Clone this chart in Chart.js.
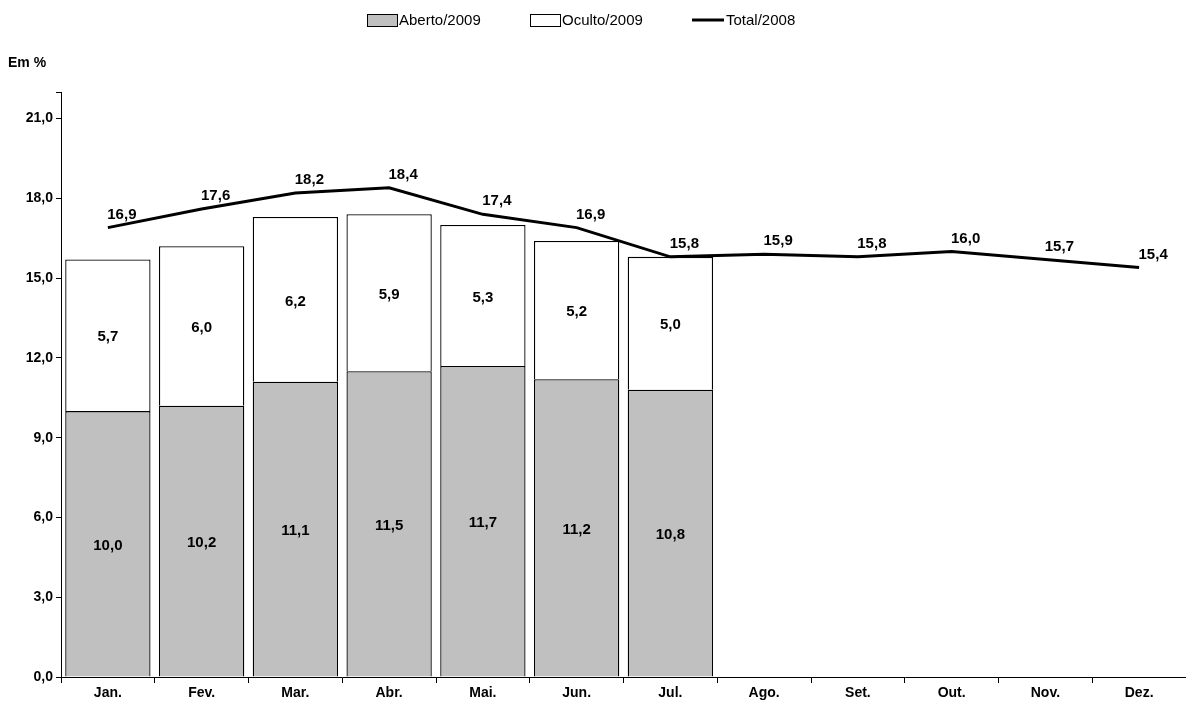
<!DOCTYPE html>
<html><head><meta charset="utf-8">
<script src="https://cdn.jsdelivr.net/npm/chart.js@4/dist/chart.umd.min.js"></script>
<style>html,body{margin:0;background:#fff}#wrap{width:1186px;height:713px}</style>
</head><body><div id="wrap"><canvas id="c"></canvas></div>
<script>
const months = ['Jan.','Fev.','Mar.','Abr.','Mai.','Jun.','Jul.','Ago.','Set.','Out.','Nov.','Dez.'];
const aberto2009 = [10.0,10.2,11.1,11.5,11.7,11.2,10.8];
const oculto2009 = [5.7,6.0,6.2,5.9,5.3,5.2,5.0];
const total2008 = [16.9,17.6,18.2,18.4,17.4,16.9,15.8,15.9,15.8,16.0,15.7,15.4];

const fmt = v => v.toFixed(1).replace('.', ',');
const FONT = 'Liberation Sans, Arial, sans-serif';

// value labels, axis caption and legend
const labelsPlugin = {
  id: 'labels',
  afterDatasetsDraw(chart) {
    const ctx = chart.ctx;
    ctx.save();
    ctx.fillStyle = '#000';
    ctx.font = 'bold 15px ' + FONT;
    ctx.textAlign = 'center';
    ctx.textBaseline = 'middle';
    [0, 1].forEach(di => {
      chart.getDatasetMeta(di).data.forEach((el, i) => {
        const v = chart.data.datasets[di].data[i];
        if (v == null) return;
        ctx.fillText(fmt(v), el.x, (el.y + el.base) / 2 + 2);
      });
    });
    chart.getDatasetMeta(2).data.forEach((el, i) => {
      ctx.fillText(fmt(total2008[i]), el.x + 14, el.y - 13);
    });
    ctx.textAlign = 'left';
    ctx.font = 'bold 14px ' + FONT;
    ctx.fillText('Em %', 8, 63);
    // legend
    ctx.font = '15px ' + FONT;
    ctx.lineWidth = 1;
    ctx.fillStyle = '#c0c0c0';
    ctx.fillRect(367, 14, 30, 12); ctx.strokeRect(367.5, 14.5, 30, 12);
    ctx.fillStyle = '#000';
    ctx.fillText('Aberto/2009', 399, 21);
    ctx.strokeRect(530.5, 14.5, 30, 12);
    ctx.fillText('Oculto/2009', 562, 21);
    ctx.lineWidth = 3;
    ctx.beginPath(); ctx.moveTo(692, 20); ctx.lineTo(724, 20); ctx.stroke();
    ctx.fillText('Total/2008', 726, 21);
    ctx.restore();
  }
};

new Chart(document.getElementById('c'), {
  data: {
    labels: months,
    datasets: [
      { type: 'bar', label: 'Aberto/2009', data: aberto2009, backgroundColor: '#c0c0c0', borderColor: '#000', borderWidth: 1.3, stack: 'b', order: 1, barPercentage: 0.91, categoryPercentage: 1 },
      { type: 'bar', label: 'Oculto/2009', data: oculto2009, backgroundColor: '#fff', borderColor: '#000', borderWidth: 1.3, stack: 'b', order: 1, barPercentage: 0.91, categoryPercentage: 1 },
      { type: 'line', label: 'Total/2008', data: total2008, borderColor: '#000', borderWidth: 3, pointRadius: 0, stack: 'l', order: 0, tension: 0 }
    ]
  },
  options: {
    responsive: true, maintainAspectRatio: false, animation: false,
    layout: { padding: { top: 92, right: 0, left: 0, bottom: 0 } },
    plugins: { legend: { display: false }, tooltip: { enabled: false } },
    scales: {
      x: {
        stacked: true,
        grid: { drawOnChartArea: false, offset: true, color: '#000', tickLength: 6 },
        border: { color: '#000' },
        ticks: { color: '#000', font: { family: FONT, size: 14, weight: 'bold' }, padding: 2 },
        afterFit: s => { s.height = 36; }
      },
      y: {
        stacked: true, min: 0, max: 22,
        grid: { drawOnChartArea: false, color: '#000', tickLength: 5 },
        border: { color: '#000' },
        ticks: { stepSize: 3, color: '#000', font: { family: FONT, size: 14, weight: 'bold' },
          callback: v => (v % 3 === 0 ? fmt(v) : '') },
        afterFit: s => { s.width = 61; }
      }
    }
  },
  plugins: [labelsPlugin]
});
</script></body></html>
